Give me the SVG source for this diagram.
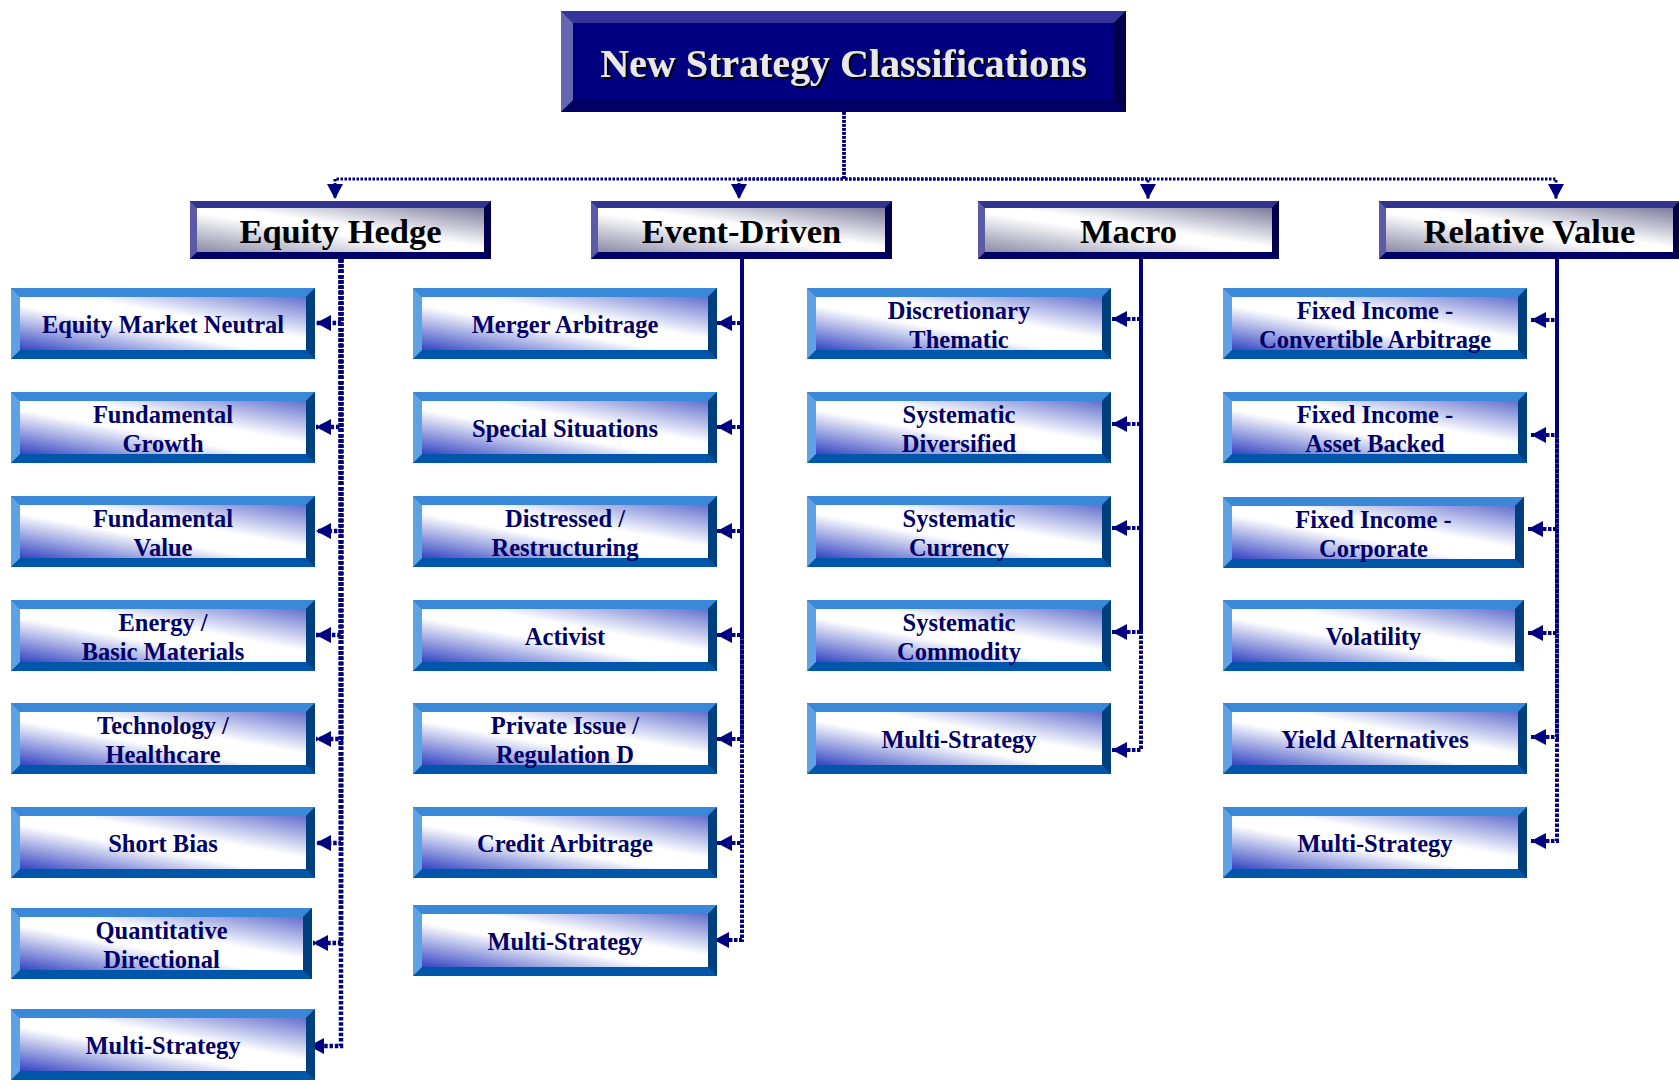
<svg xmlns="http://www.w3.org/2000/svg" xmlns:xlink="http://www.w3.org/1999/xlink" width="1679" height="1086" viewBox="0 0 1679 1086">
<style>
.title{font-family:"Liberation Serif","Times New Roman",serif;font-weight:bold;font-size:40px;fill:#e8e8e8;text-anchor:middle}
.cat{font-family:"Liberation Serif","Times New Roman",serif;font-weight:bold;font-size:34.5px;fill:#000000;text-anchor:middle}
.nd{font-family:"Liberation Serif","Times New Roman",serif;font-weight:bold;font-size:24.5px;fill:#000066;text-anchor:middle}
.cn{fill:none;stroke:#000080;stroke-width:4;stroke-dasharray:3.5 1.5}
.cn1{fill:none;stroke:#000080;stroke-width:4.5;stroke-dasharray:3.5 1.8}
.cnt{fill:none;stroke:#000080;stroke-width:3;stroke-dasharray:2.5 1.5}
</style>
<defs>
<linearGradient id="gChild" x1="0" y1="1" x2="1" y2="0">
<stop offset="0" stop-color="#3344c2"/>
<stop offset="0.42" stop-color="#ffffff"/>
<stop offset="0.6" stop-color="#ffffff"/>
<stop offset="1" stop-color="#6270cf"/>
</linearGradient>
<linearGradient id="gCat" x1="0" y1="1" x2="1" y2="0">
<stop offset="0" stop-color="#8a8aa6"/>
<stop offset="0.45" stop-color="#ffffff"/>
<stop offset="0.55" stop-color="#ffffff"/>
<stop offset="1" stop-color="#7c7c9c"/>
</linearGradient>
<filter id="shadow" x="-5%" y="-20%" width="110%" height="140%">
<feDropShadow dx="2" dy="2" stdDeviation="0.3" flood-color="#000000" flood-opacity="1"/>
</filter>
<marker id="aL" markerUnits="userSpaceOnUse" viewBox="0 0 15 16" markerWidth="15" markerHeight="16" refX="15" refY="8" orient="auto">
<path d="M0,0 L15,8 L0,16 z" fill="#000080"/>
</marker>
<marker id="aS" markerUnits="userSpaceOnUse" viewBox="0 0 15 16" markerWidth="15" markerHeight="16" refX="15" refY="8" orient="auto-start-reverse">
<path d="M0,0 L15,8 L0,16 z" fill="#000080"/>
</marker>
<g id="childBox">
<rect x="0" y="0" width="304" height="71" fill="#0056a8"/>
<polygon points="0,0 304,0 295,9 9,9" fill="#3a88d8"/>
<polygon points="0,0 9,9 9,62 0,71" fill="#5ea2e4"/>
<polygon points="304,0 295,9 295,62 304,71" fill="#003f7e"/>
<rect x="9" y="9" width="286" height="53" fill="url(#gChild)"/>
</g>
<g id="childBoxN">
<rect x="0" y="0" width="301" height="71" fill="#0056a8"/>
<polygon points="0,0 301,0 292,9 9,9" fill="#3a88d8"/>
<polygon points="0,0 9,9 9,62 0,71" fill="#5ea2e4"/>
<polygon points="301,0 292,9 292,62 301,71" fill="#003f7e"/>
<rect x="9" y="9" width="283" height="53" fill="url(#gChild)"/>
</g>
<g id="catBox">
<rect x="0" y="0" width="301" height="58" fill="#000066"/>
<polygon points="0,0 301,0 294,7 7,7" fill="#333390"/>
<polygon points="0,0 7,7 7,51 0,58" fill="#5a5aa6"/>
<polygon points="301,0 294,7 294,51 301,58" fill="#00004e"/>
<rect x="7" y="7" width="287" height="44" fill="url(#gCat)"/>
</g>
</defs>
<rect x="0" y="0" width="1679" height="1086" fill="#ffffff"/>

<g id="connectors">
<path class="cnt" d="M844,112 V179 H335 V199" marker-end="url(#aL)"/>
<path class="cnt" d="M844,112 V179 H739 V199" marker-end="url(#aL)"/>
<path class="cnt" d="M844,112 V179 H1148 V199" marker-end="url(#aL)"/>
<path class="cnt" d="M844,112 V179 H1556 V199" marker-end="url(#aL)"/>

<path class="cn1" d="M341,259 V323 H316" marker-end="url(#aL)"/>
<path class="cn1" d="M341,259 V427 H316" marker-end="url(#aL)"/>
<path class="cn1" d="M341,259 V531 H316" marker-end="url(#aL)"/>
<path class="cn1" d="M341,259 V635 H316" marker-end="url(#aL)"/>
<path class="cn1" d="M341,259 V739 H316" marker-end="url(#aL)"/>
<path class="cn1" d="M341,259 V843 H316" marker-end="url(#aL)"/>
<path class="cn1" d="M341,259 V943 H313" marker-end="url(#aL)"/>
<path class="cn1" d="M341,259 V1046 H309" marker-end="url(#aL)"/>

<path class="cn" d="M717,323 H742 V259" marker-start="url(#aS)"/>
<path class="cn" d="M717,427 H742 V259" marker-start="url(#aS)"/>
<path class="cn" d="M717,531 H742 V259" marker-start="url(#aS)"/>
<path class="cn" d="M717,635 H742 V259" marker-start="url(#aS)"/>
<path class="cn" d="M717,739 H742 V259" marker-start="url(#aS)"/>
<path class="cn" d="M717,843 H742 V259" marker-start="url(#aS)"/>
<path class="cn" d="M714,940 H742 V259" marker-start="url(#aS)"/>

<path class="cn" d="M1112,319 H1141 V259" marker-start="url(#aS)"/>
<path class="cn" d="M1112,424 H1141 V259" marker-start="url(#aS)"/>
<path class="cn" d="M1112,528 H1141 V259" marker-start="url(#aS)"/>
<path class="cn" d="M1112,632 H1141 V259" marker-start="url(#aS)"/>
<path class="cn" d="M1112,750 H1141 V259" marker-start="url(#aS)"/>

<path class="cn" d="M1531,320 H1557 V259" marker-start="url(#aS)"/>
<path class="cn" d="M1531,435 H1557 V259" marker-start="url(#aS)"/>
<path class="cn" d="M1528,529 H1557 V259" marker-start="url(#aS)"/>
<path class="cn" d="M1528,633 H1557 V259" marker-start="url(#aS)"/>
<path class="cn" d="M1531,737 H1557 V259" marker-start="url(#aS)"/>
<path class="cn" d="M1531,841 H1557 V259" marker-start="url(#aS)"/>
</g>

<g id="root">
<rect x="561" y="11" width="565" height="101" fill="#000066"/>
<polygon points="561,11 1126,11 1114,23 573,23" fill="#34349a"/>
<polygon points="561,11 573,23 573,100 561,112" fill="#6666b2"/>
<polygon points="1126,11 1114,23 1114,100 1126,112" fill="#00004c"/>
<rect x="573" y="23" width="541" height="77" fill="#000080"/>
<text class="title" x="843.5" y="77" filter="url(#shadow)">New Strategy Classifications</text>
</g>

<g id="cat-equity-hedge"><use href="#catBox" x="190" y="201"/><text class="cat" x="340.5" y="243">Equity Hedge</text></g>
<g id="cat-event-driven"><use href="#catBox" x="591" y="201"/><text class="cat" x="741.5" y="243">Event-Driven</text></g>
<g id="cat-macro"><use href="#catBox" x="978" y="201"/><text class="cat" x="1128.5" y="243">Macro</text></g>
<g id="cat-relative-value"><use href="#catBox" x="1379" y="201"/><text class="cat" x="1529.5" y="243">Relative Value</text></g>

<g id="eh-emn"><use href="#childBox" x="11" y="288"/><text class="nd" x="163" y="333">Equity Market Neutral</text></g>
<g id="eh-fg"><use href="#childBox" x="11" y="392"/><text class="nd" x="163"><tspan x="163" y="423">Fundamental</tspan><tspan x="163" y="452">Growth</tspan></text></g>
<g id="eh-fv"><use href="#childBox" x="11" y="496"/><text class="nd" x="163"><tspan x="163" y="527">Fundamental</tspan><tspan x="163" y="556">Value</tspan></text></g>
<g id="eh-ebm"><use href="#childBox" x="11" y="600"/><text class="nd" x="163"><tspan x="163" y="631">Energy /</tspan><tspan x="163" y="660">Basic Materials</tspan></text></g>
<g id="eh-th"><use href="#childBox" x="11" y="703"/><text class="nd" x="163"><tspan x="163" y="734">Technology /</tspan><tspan x="163" y="763">Healthcare</tspan></text></g>
<g id="eh-sb"><use href="#childBox" x="11" y="807"/><text class="nd" x="163" y="852">Short Bias</text></g>
<g id="eh-qd"><use href="#childBoxN" x="11" y="908"/><text class="nd" x="161.5"><tspan x="161.5" y="939">Quantitative</tspan><tspan x="161.5" y="968">Directional</tspan></text></g>
<g id="eh-ms"><use href="#childBox" x="11" y="1009"/><text class="nd" x="163" y="1054">Multi-Strategy</text></g>

<g id="ed-ma"><use href="#childBox" x="413" y="288"/><text class="nd" x="565" y="333">Merger Arbitrage</text></g>
<g id="ed-ss"><use href="#childBox" x="413" y="392"/><text class="nd" x="565" y="437">Special Situations</text></g>
<g id="ed-dr"><use href="#childBox" x="413" y="496"/><text class="nd" x="565"><tspan x="565" y="527">Distressed /</tspan><tspan x="565" y="556">Restructuring</tspan></text></g>
<g id="ed-act"><use href="#childBox" x="413" y="600"/><text class="nd" x="565" y="645">Activist</text></g>
<g id="ed-pi"><use href="#childBox" x="413" y="703"/><text class="nd" x="565"><tspan x="565" y="734">Private Issue /</tspan><tspan x="565" y="763">Regulation D</tspan></text></g>
<g id="ed-ca"><use href="#childBox" x="413" y="807"/><text class="nd" x="565" y="852">Credit Arbitrage</text></g>
<g id="ed-ms"><use href="#childBox" x="413" y="905"/><text class="nd" x="565" y="950">Multi-Strategy</text></g>

<g id="m-dt"><use href="#childBox" x="807" y="288"/><text class="nd" x="959"><tspan x="959" y="319">Discretionary</tspan><tspan x="959" y="348">Thematic</tspan></text></g>
<g id="m-sd"><use href="#childBox" x="807" y="392"/><text class="nd" x="959"><tspan x="959" y="423">Systematic</tspan><tspan x="959" y="452">Diversified</tspan></text></g>
<g id="m-sc"><use href="#childBox" x="807" y="496"/><text class="nd" x="959"><tspan x="959" y="527">Systematic</tspan><tspan x="959" y="556">Currency</tspan></text></g>
<g id="m-sco"><use href="#childBox" x="807" y="600"/><text class="nd" x="959"><tspan x="959" y="631">Systematic</tspan><tspan x="959" y="660">Commodity</tspan></text></g>
<g id="m-ms"><use href="#childBox" x="807" y="703"/><text class="nd" x="959" y="748">Multi-Strategy</text></g>

<g id="rv-fica"><use href="#childBox" x="1223" y="288"/><text class="nd" x="1375"><tspan x="1375" y="319">Fixed Income -</tspan><tspan x="1375" y="348">Convertible Arbitrage</tspan></text></g>
<g id="rv-fiab"><use href="#childBox" x="1223" y="392"/><text class="nd" x="1375"><tspan x="1375" y="423">Fixed Income -</tspan><tspan x="1375" y="452">Asset Backed</tspan></text></g>
<g id="rv-fic"><use href="#childBoxN" x="1223" y="497"/><text class="nd" x="1373.5"><tspan x="1373.5" y="528">Fixed Income -</tspan><tspan x="1373.5" y="557">Corporate</tspan></text></g>
<g id="rv-vol"><use href="#childBoxN" x="1223" y="600"/><text class="nd" x="1373.5" y="645">Volatility</text></g>
<g id="rv-ya"><use href="#childBox" x="1223" y="703"/><text class="nd" x="1375" y="748">Yield Alternatives</text></g>
<g id="rv-ms"><use href="#childBox" x="1223" y="807"/><text class="nd" x="1375" y="852">Multi-Strategy</text></g>
</svg>
